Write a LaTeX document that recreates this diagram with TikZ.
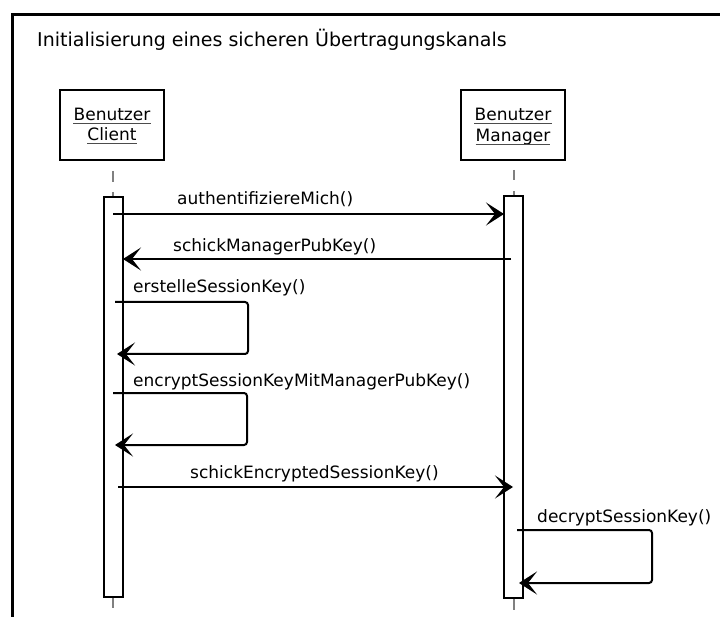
\documentclass[tikz,border=0pt]{standalone}
\usepackage{fontspec}
\setmainfont{DejaVu Sans}
\usetikzlibrary{arrows.meta,calc}
\tikzset{
  lbl/.style={anchor=base west, inner sep=0pt, font=\fontsize{17}{20}\selectfont},
  msg/.style={line width=2pt, -{Stealth[length=18pt,width=23pt,inset=9pt]}},
  loopmsg/.style={msg, rounded corners=3pt},
  objbox/.style={draw, line width=2pt, fill=white},
  bar/.style={draw, line width=2pt, fill=white},
  life/.style={draw=gray, line width=1.3pt},
  objtxt/.style={anchor=base, inner sep=0pt, font=\fontsize{17}{20}\selectfont},
  uline/.style={line width=1pt, draw=black!70}
}
\begin{document}
\begin{tikzpicture}[x=1pt,y=-1pt]
\useasboundingbox (0,0) rectangle (720,617);
% frame
\draw[line width=3pt] (12,640) -- (12,15) -- (740,15);
\node[anchor=base west, inner sep=0pt, font=\fontsize{19}{22}\selectfont] (title) at (37,47) {Initialisierung eines sicheren Übertragungskanals};
% objects
\node[objbox, minimum width=104pt, minimum height=70pt] (cbox) at (112,125) {};
\node[objbox, minimum width=104pt, minimum height=70pt] (mbox) at (513,125) {};
\node[objtxt] (c1) at (112,121) {Benutzer};
\node[objtxt] (c2) at (112,141) {Client};
\node[objtxt] (m1) at (513,121) {Benutzer};
\node[objtxt] (m2) at (513,142) {Manager};
\foreach \n in {c1,c2,m1} \draw[uline] ($(\n.base west)+(0,2.5)$) -- ($(\n.base east)+(0,2.5)$);
\draw[uline] ($(m2.base west)+(0,3)$) -- ($(m2.base east)+(0,3)$);
% lifelines
\coordinate (cl1) at (113,171); \coordinate (cl2) at (113,182);
\coordinate (cl3) at (113,192); \coordinate (cl4) at (113,198);
\coordinate (cl5) at (113,598); \coordinate (cl6) at (113,608);
\coordinate (ml1) at (514,170); \coordinate (ml2) at (514,180);
\coordinate (ml3) at (514,191); \coordinate (ml4) at (514,197);
\coordinate (ml5) at (514,598); \coordinate (ml6) at (514,610);
\draw[life] (cl1) -- (cl2) (cl3) -- (cl4) (cl5) -- (cl6);
\draw[life] (ml1) -- (ml2) (ml3) -- (ml4) (ml5) -- (ml6);
% activation bars
\node[bar, minimum width=19pt, minimum height=400pt, inner sep=0pt] (cbar) at (113.5,397) {};
\node[bar, minimum width=19pt, minimum height=402pt, inner sep=0pt] (mbar) at (513.5,397) {};
% messages
\coordinate (a1s) at (113,214); \coordinate (a1e) at (504,214);
\draw[msg] (a1s) -- (a1e);
\node[lbl] (l1) at (177,205) {authentifiziereMich()};
\coordinate (a2s) at (511,259); \coordinate (a2e) at (123,259);
\draw[msg] (a2s) -- (a2e);
\node[lbl] (l2) at (173,252) {schickManagerPubKey()};
\coordinate (a3s) at (115,302); \coordinate (a3e) at (117,354);
\draw[loopmsg] (a3s) -- (248,302) -- (248,354) -- (a3e);
\node[lbl] (l3) at (133,293) {erstelleSessionKey()};
\coordinate (a4s) at (113,393); \coordinate (a4e) at (115,445);
\draw[loopmsg] (a4s) -- (247,393) -- (247,445) -- (a4e);
\node[lbl] (l4) at (133,387) {encryptSessionKeyMitManagerPubKey()};
\coordinate (a5s) at (118,487); \coordinate (a5e) at (513,487);
\draw[msg] (a5s) -- (a5e);
\node[lbl] (l5) at (190,478) {schickEncryptedSessionKey()};
\coordinate (a6s) at (517,530); \coordinate (a6e) at (519,583);
\draw[loopmsg] (a6s) -- (652,530) -- (652,583) -- (a6e);
\node[lbl] (l6) at (537,522) {decryptSessionKey()};
\end{tikzpicture}
\end{document}
